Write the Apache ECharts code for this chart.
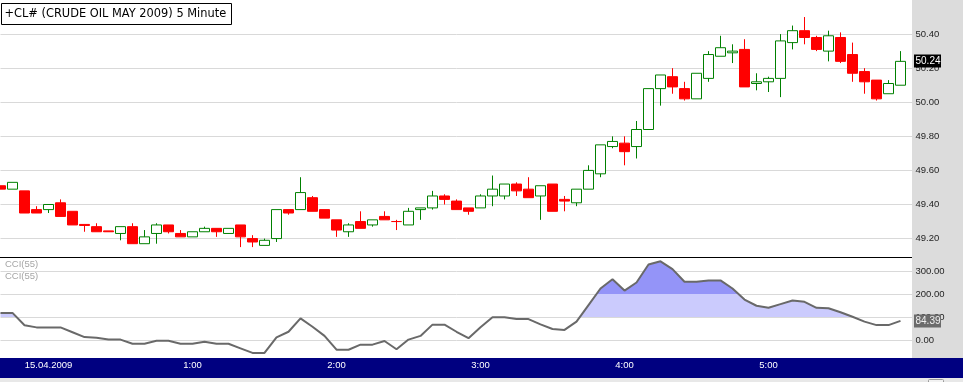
<!DOCTYPE html>
<html><head><meta charset="utf-8">
<script src="https://cdn.jsdelivr.net/npm/echarts@6/dist/echarts.min.js"></script>
<style>html,body{margin:0;padding:0;background:#fff}#c{width:963px;height:382px}</style>
</head><body><div id="c"></div><script>
// ---- data (5-minute bars, CL# May 2009) ----
const times = ["23:40","23:45","23:50","23:55",
 "0:00","0:05","0:10","0:15","0:20","0:25","0:30","0:35","0:40","0:45","0:50","0:55",
 "1:00","1:05","1:10","1:15","1:20","1:25","1:30","1:35","1:40","1:45","1:50","1:55",
 "2:00","2:05","2:10","2:15","2:20","2:25","2:30","2:35","2:40","2:45","2:50","2:55",
 "3:00","3:05","3:10","3:15","3:20","3:25","3:30","3:35","3:40","3:45","3:50","3:55",
 "4:00","4:05","4:10","4:15","4:20","4:25","4:30","4:35","4:40","4:45","4:50","4:55",
 "5:00","5:05","5:10","5:15","5:20","5:25","5:30","5:35","5:40","5:45","5:50","5:55"];
const opens  = [49.51,49.49,49.48,49.37,49.37,49.41,49.36,49.283,49.27,49.245,49.23,49.27,49.17,49.23,49.28,49.23,49.21,49.24,49.26,49.23,
 49.28,49.20,49.16,49.20,49.37,49.37,49.44,49.37,49.31,49.24,49.30,49.28,49.33,49.30,49.28,49.37,49.38,49.45,49.42,49.38,
 49.38,49.45,49.45,49.52,49.49,49.45,49.52,49.43,49.41,49.49,49.58,49.74,49.76,49.74,49.84,50.08,50.15,50.08,50.02,50.14,
 50.27,50.29,50.31,50.11,50.12,50.14,50.35,50.42,50.38,50.30,50.38,50.28,50.18,50.13,50.05,50.10];
const closes = [49.49,49.53,49.35,49.35,49.40,49.33,49.28,49.277,49.24,49.24,49.27,49.17,49.21,49.28,49.24,49.21,49.24,49.26,49.24,49.26,
 49.21,49.18,49.19,49.37,49.35,49.47,49.36,49.32,49.25,49.28,49.26,49.31,49.31,49.30,49.36,49.38,49.45,49.43,49.37,49.36,
 49.45,49.49,49.52,49.48,49.44,49.51,49.36,49.42,49.49,49.60,49.75,49.77,49.71,49.84,50.08,50.16,50.09,50.02,50.17,50.28,
 50.32,50.30,50.09,50.12,50.14,50.36,50.42,50.38,50.31,50.39,50.24,50.17,50.12,50.02,50.11,50.24];
const lows   = [49.49,49.49,49.35,49.35,49.35,49.33,49.28,49.24,49.24,49.24,49.19,49.17,49.17,49.17,49.23,49.21,49.21,49.24,49.21,49.23,
 49.15,49.15,49.16,49.18,49.34,49.37,49.36,49.32,49.21,49.21,49.26,49.27,49.31,49.25,49.28,49.31,49.37,49.40,49.37,49.34,
 49.38,49.39,49.43,49.45,49.44,49.31,49.36,49.36,49.39,49.49,49.56,49.73,49.63,49.67,49.84,49.98,50.05,50.01,50.02,50.12,
 50.27,50.23,50.09,50.07,50.06,50.03,50.31,50.34,50.30,50.24,50.23,50.12,50.05,50.01,50.05,50.10];
const highs  = [49.51,49.53,49.48,49.39,49.40,49.43,49.36,49.283,49.29,49.245,49.27,49.29,49.25,49.29,49.28,49.25,49.24,49.27,49.26,49.26,
 49.28,49.22,49.20,49.37,49.37,49.56,49.45,49.37,49.31,49.29,49.36,49.31,49.36,49.31,49.38,49.38,49.48,49.46,49.43,49.38,
 49.46,49.57,49.52,49.53,49.56,49.51,49.52,49.45,49.49,49.63,49.75,49.80,49.80,49.89,50.08,50.16,50.20,50.12,50.17,50.30,
 50.39,50.34,50.37,50.17,50.15,50.40,50.45,50.50,50.39,50.42,50.41,50.35,50.20,50.13,50.13,50.30];
const cci = [119,119,65,56,56,56,35,14,11,3,3,-15,-15,-2,-2,-15,-15,-6,-15,-15,
 -35,-55,-55,13,37,95,59,19,-41,-41,-19,-19,-3,-39,3,19,68,68,37,9,
 57,100,100,92,92,69,49,45,81,153,225,265,216,251,329,343,309,254,254,260,
 260,225,177,150,141,157,173,167,141,139,122,102,81,66,66,84.39];
const hourTimes  = ["0:00","1:00","2:00","3:00","4:00","5:00"];
const hourLabels = ["15.04.2009","1:00","2:00","3:00","4:00","5:00"];
const titleText = "+CL# (CRUDE OIL MAY 2009) 5 Minute";
const cciName = "CCI(55)";

// ---- build ----
const cats = times.concat([""]);
const ohlc = opens.map((o, i) => [o, closes[i], lows[i], highs[i]]);
const FONT = 'Liberation Sans';
const chart = echarts.init(document.getElementById('c'), null, {renderer: 'canvas'});

const gridL = 0.5, gridW = 912;
chart.setOption({
  animation: false,
  backgroundColor: '#ffffff',
  grid: [
    {left: gridL, width: gridW, top: -2.04, height: 274.7},
    {left: gridL, width: gridW, top: 248.2, height: 115.1}
  ],
  xAxis: [
    {type: 'category', gridIndex: 0, data: cats, boundaryGap: false,
     axisLine: {show: false}, axisTick: {show: false}, axisLabel: {show: false}, splitLine: {show: false}},
    {type: 'category', gridIndex: 1, data: cats, boundaryGap: false, z: 20,
     axisLine: {show: false}, axisTick: {show: false}, splitLine: {show: false},
     axisLabel: {
       interval: (i, v) => hourTimes.indexOf(v) >= 0,
       formatter: v => { const k = hourTimes.indexOf(v); return k >= 0 ? hourLabels[k] : ''; },
       color: '#ffffff', fontFamily: FONT, fontSize: 9.5, margin: 2, verticalAlign: 'middle'
     }}
  ],
  yAxis: [
    {type: 'value', gridIndex: 0, position: 'right', min: 49.0, max: 50.6, interval: 0.2,
     axisLine: {show: false}, axisTick: {show: false},
     splitLine: {show: true, showMinLine: false, showMaxLine: false, lineStyle: {color: '#d9d9d9', width: 1}},
     axisLabel: {showMinLabel: false, showMaxLabel: false, formatter: v => v.toFixed(2), margin: 3,
       color: '#1e1e1e', fontFamily: FONT, fontSize: 9.5}},
    {type: 'value', gridIndex: 1, position: 'right', min: -100, max: 400, interval: 100,
     axisLine: {show: false}, axisTick: {show: false},
     splitLine: {show: true, showMinLine: false, showMaxLine: false, lineStyle: {color: '#d9d9d9', width: 1}},
     axisLabel: {showMinLabel: false, showMaxLabel: false, formatter: v => v.toFixed(2), margin: 3,
       color: '#1e1e1e', fontFamily: FONT, fontSize: 9.5}}
  ],
  visualMap: {
    type: 'piecewise', show: false, seriesIndex: 1, dimension: 1,
    pieces: [
      {lt: 100, color: 'rgba(255,255,255,0)'},
      {gte: 100, lt: 200, color: '#cbcbfd'},
      {gte: 200, color: '#9494f8'}
    ]
  },
  series: [
    {type: 'candlestick', xAxisIndex: 0, yAxisIndex: 0, data: ohlc, barWidth: 10,
     itemStyle: {color: '#ffffff', color0: '#ff0000', borderColor: '#008000', borderColor0: '#ff0000', borderWidth: 1}},
    {type: 'line', xAxisIndex: 1, yAxisIndex: 1, data: cci, symbol: 'none', silent: true, z: 1,
     lineStyle: {width: 0}, areaStyle: {origin: 100, opacity: 1}},
    {type: 'line', xAxisIndex: 1, yAxisIndex: 1, data: cci, symbol: 'none', silent: true, z: 3,
     lineStyle: {color: '#696969', width: 2}}
  ]
});

const lastPrice = closes[closes.length - 1];
const lastCci = cci[cci.length - 1];
const py = chart.convertToPixel({yAxisIndex: 0}, lastPrice);
const cy = chart.convertToPixel({yAxisIndex: 1}, lastCci);

chart.setOption({
  graphic: [
    {type: 'rect', z: -10, shape: {x: 912, y: 0, width: 51, height: 358}, style: {fill: '#dcdcdc'}},
    {type: 'rect', z: -10, shape: {x: 0, y: 358, width: 963, height: 20}, style: {fill: '#000080'}},
    {type: 'rect', z: -10, shape: {x: 0, y: 378, width: 963, height: 4}, style: {fill: '#e8e8e8'}},
    {type: 'rect', z: -9, shape: {x: 928.5, y: 379.5, width: 15, height: 6, r: 1}, style: {fill: '#f2f2f2', stroke: '#9a9a9a', lineWidth: 1}},
    {type: 'line', z: 5, shape: {x1: 0, y1: 257.5, x2: 912, y2: 257.5}, style: {stroke: '#000000', lineWidth: 1}},
    {type: 'rect', z: 30, shape: {x: 1.5, y: 3.5, width: 230, height: 21}, style: {fill: '#ffffff', stroke: '#000000', lineWidth: 1}},
    {type: 'text', z: 31, x: 4.5, y: 14.5, style: {text: titleText, font: '11.4px "DejaVu Sans"', fill: '#000000', verticalAlign: 'middle'}},
    {type: 'text', z: 31, x: 5, y: 264.5, style: {text: cciName, font: '9.5px "Liberation Sans"', fill: '#a6a6a6', verticalAlign: 'middle'}},
    {type: 'text', z: 31, x: 5, y: 276.5, style: {text: cciName, font: '9.5px "Liberation Sans"', fill: '#a6a6a6', verticalAlign: 'middle'}},
    {type: 'rect', z: 30, shape: {x: 914, y: Math.round(py) - 6.5, width: 27, height: 13}, style: {fill: '#000000'}},
    {type: 'text', z: 31, x: 915.5, y: py, style: {text: lastPrice.toFixed(2), font: '10px "Liberation Sans"', fill: '#ffffff', verticalAlign: 'middle'}},
    {type: 'rect', z: 30, shape: {x: 914, y: Math.round(cy) - 6.5, width: 27, height: 13}, style: {fill: '#6b6b6b'}},
    {type: 'text', z: 31, x: 915.5, y: cy, style: {text: lastCci.toFixed(2), font: '10px "Liberation Sans"', fill: '#f0f0f0', verticalAlign: 'middle'}}
  ]
});
</script></body></html>
